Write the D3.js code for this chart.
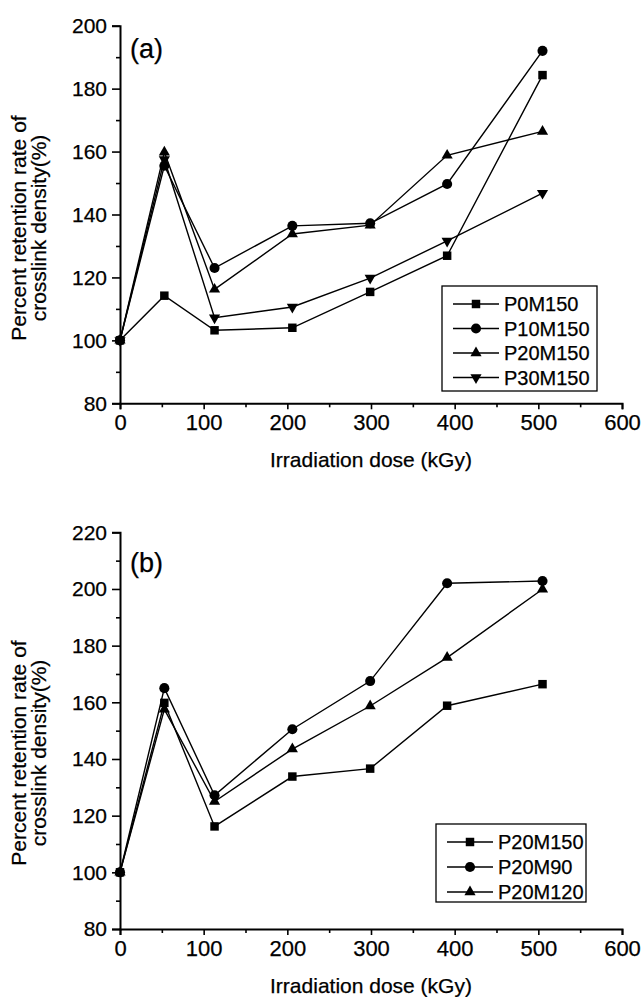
<!DOCTYPE html>
<html>
<head>
<meta charset="utf-8">
<script src="https://cdn.jsdelivr.net/npm/d3@7"></script>
<style>
  body { margin: 0; background: #fff; }
  svg { display: block; }
  text { font-family: "Liberation Sans", Arial, sans-serif; fill: #000; stroke: #000; stroke-width: 0.25px; }
</style>
</head>
<body>
<svg id="chart" width="642" height="997"></svg>
<script>
// irradiation doses (kGy), shared by both panels
const doses = [0, 53, 113, 206, 299, 391, 505];

// panel (a)
const p0m150  = [100, 114.2, 103.2, 104.0, 115.4, 126.9, 184.3];
const p10m150 = [100, 155.5, 123.0, 136.4, 137.2, 149.7, 192.0];
const p20m150 = [100, 159.8, 116.2, 133.8, 136.6, 158.8, 166.4];
const p30m150 = [100, 157.5, 107.2, 110.6, 119.8, 131.6, 146.8];

// panel (b)
const p20m90  = [100, 165.0, 127.2, 150.5, 167.5, 202.0, 202.8];
const p20m120 = [100, 157.5, 125.0, 143.5, 158.7, 175.8, 199.9];

const xTicks = [0, 100, 200, 300, 400, 500, 600];
const xMinor = [50, 150, 250, 350, 450, 550];
const yTicksA = [80, 100, 120, 140, 160, 180, 200];
const yTicksB = [80, 100, 120, 140, 160, 180, 200, 220];

const xTitle = "Irradiation dose (kGy)";
const yTitle = ["Percent retention rate of", "crosslink density(%)"];

const svg = d3.select("#chart");

const panels = [
  {
    tag: "(a)", tagY: 58, top: 25.7, bottom: 403.3,
    yTicks: yTicksA,
    series: [
      {name: "P0M150", values: p0m150, shape: "square"},
      {name: "P10M150", values: p10m150, shape: "circle"},
      {name: "P20M150", values: p20m150, shape: "up"},
      {name: "P30M150", values: p30m150, shape: "down"}
    ],
    legend: {x: 442, y: 286, w: 155, h: 105, step: 24.5},
    titleMid: 228
  },
  {
    tag: "(b)", tagY: 572, top: 532.3, bottom: 929,
    yTicks: yTicksB,
    series: [
      {name: "P20M150", values: p20m150, shape: "square"},
      {name: "P20M90", values: p20m90, shape: "circle"},
      {name: "P20M120", values: p20m120, shape: "up"}
    ],
    legend: {x: 436, y: 824, w: 150, h: 78, step: 25},
    titleMid: 753
  }
];

function marker(shape) {
  if (shape === "square") return d3.symbol(d3.symbolSquare, 72)();
  if (shape === "circle") return d3.symbol(d3.symbolCircle, 80)();
  return d3.symbol(d3.symbolTriangle, 54)();
}

function drawPanel(p) {
  const x = d3.scaleLinear().domain([0, 600]).range([120, 622]);
  const y = d3.scaleLinear().domain(d3.extent(p.yTicks)).range([p.bottom, p.top]);
  const g = svg.append("g");

  // series lines
  const line = d3.line().x((d, i) => x(doses[i])).y(d => y(d));
  p.series.forEach(s => {
    g.append("path").datum(s.values).attr("d", line)
      .attr("fill", "none").attr("stroke", "#000").attr("stroke-width", 1.4);
  });
  p.series.forEach(s => {
    g.selectAll(null).data(s.values).enter().append("path")
      .attr("d", marker(s.shape))
      .attr("transform", (d, i) => "translate(" + x(doses[i]) + "," + y(d) + ")" + (s.shape === "down" ? " rotate(180)" : ""))
      .attr("fill", "#000");
  });

  // axes
  const xa = g.append("g").attr("transform", "translate(0," + p.bottom + ")")
    .call(d3.axisBottom(x).tickValues(xTicks).tickSize(6).tickPadding(5));
  g.append("g").attr("transform", "translate(0," + p.bottom + ")")
    .call(d3.axisBottom(x).tickValues(xMinor).tickSize(4).tickFormat(""))
    .select(".domain").remove();
  const ya = g.append("g").attr("transform", "translate(120,0)")
    .call(d3.axisLeft(y).tickValues(p.yTicks).tickSize(8).tickPadding(5));
  const yMinor = p.yTicks.slice(1).map(v => v - 10);
  g.append("g").attr("transform", "translate(120,0)")
    .call(d3.axisLeft(y).tickValues(yMinor).tickSize(4).tickFormat(""))
    .select(".domain").remove();

  g.selectAll(".domain").attr("stroke-width", 2);
  g.selectAll(".tick line").attr("stroke-width", 1.6);
  xa.selectAll("text").style("font-size", "22px").style("font-family", null);
  ya.selectAll("text").style("font-size", "21px").style("font-family", null);
  g.selectAll(".domain, .tick line").attr("stroke", "#000");

  // panel tag
  g.append("text").attr("x", 130).attr("y", p.tagY)
    .style("font-size", "27px").text(p.tag);

  // axis titles
  g.append("text").attr("x", 371).attr("y", p.bottom + 64)
    .attr("text-anchor", "middle").style("font-size", "21px").text(xTitle);
  yTitle.forEach((t, i) => {
    g.append("text")
      .attr("transform", "translate(" + (26 + i * 20) + "," + p.titleMid + ") rotate(-90)")
      .attr("text-anchor", "middle").style("font-size", "21px").text(t);
  });

  // legend
  const L = p.legend;
  const lg = g.append("g").attr("transform", "translate(" + L.x + "," + L.y + ")");
  lg.append("rect").attr("width", L.w).attr("height", L.h)
    .attr("fill", "#fff").attr("stroke", "#000").attr("stroke-width", 1.3);
  p.series.forEach((s, i) => {
    const cy = 18 + i * L.step;
    lg.append("line").attr("x1", 11).attr("x2", 57).attr("y1", cy).attr("y2", cy)
      .attr("stroke", "#000").attr("stroke-width", 1.3);
    lg.append("path").attr("d", marker(s.shape))
      .attr("transform", "translate(34," + cy + ")" + (s.shape === "down" ? " rotate(180)" : ""))
      .attr("fill", "#000");
    lg.append("text").attr("x", 62).attr("y", cy).attr("dy", "0.36em")
      .style("font-size", "20px").text(s.name);
  });
}

panels.forEach(drawPanel);
</script>
</body>
</html>
